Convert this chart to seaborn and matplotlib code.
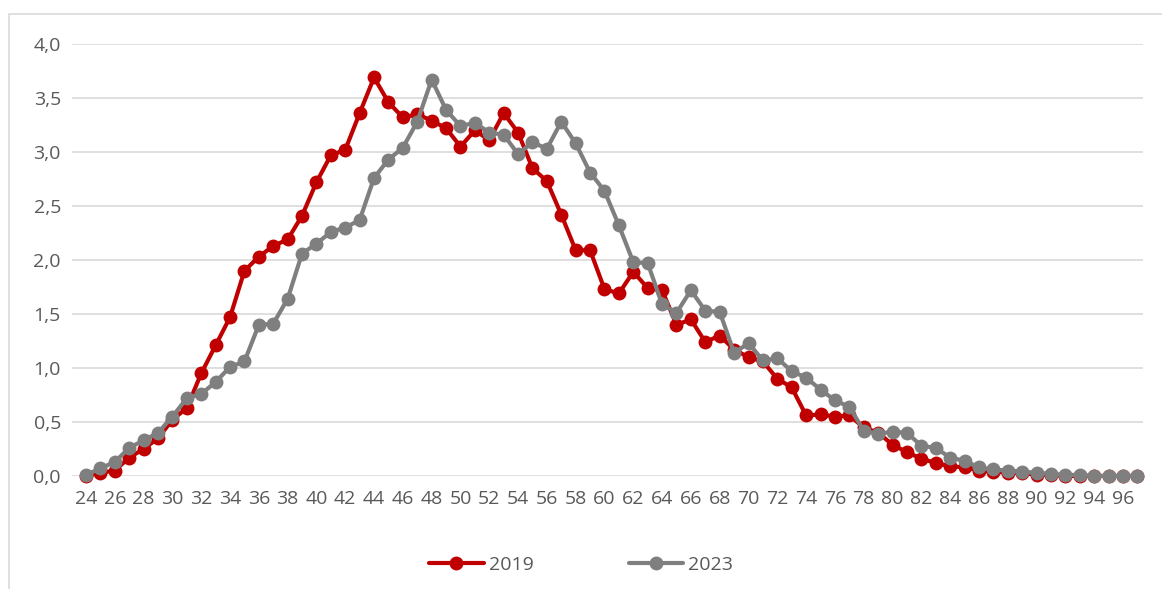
import numpy as np
import pandas as pd
import matplotlib
matplotlib.use('Agg')
import matplotlib.pyplot as plt
import seaborn as sns
from matplotlib.ticker import FuncFormatter, MultipleLocator
from matplotlib.patches import Rectangle

# age values (x axis)
ages = list(range(24, 98))

share_2019 = [0.00, 0.03, 0.05, 0.17, 0.25, 0.35, 0.52, 0.63, 0.95, 1.21,
              1.47, 1.90, 2.03, 2.13, 2.19, 2.41, 2.72, 2.97, 3.02, 3.36,
              3.69, 3.46, 3.32, 3.35, 3.29, 3.22, 3.05, 3.20, 3.11, 3.36,
              3.18, 2.85, 2.73, 2.42, 2.09, 2.09, 1.73, 1.69, 1.89, 1.74,
              1.72, 1.40, 1.45, 1.24, 1.30, 1.17, 1.10, 1.06, 0.90, 0.82,
              0.56, 0.57, 0.55, 0.56, 0.45, 0.40, 0.29, 0.22, 0.16, 0.12,
              0.09, 0.08, 0.05, 0.04, 0.03, 0.03, 0.01, 0.01, 0.00, 0.00,
              0.00, 0.00, 0.00, 0.00]

share_2023 = [0.01, 0.07, 0.13, 0.26, 0.33, 0.40, 0.55, 0.72, 0.76, 0.87,
              1.01, 1.06, 1.40, 1.41, 1.64, 2.06, 2.15, 2.26, 2.30, 2.37,
              2.76, 2.93, 3.04, 3.28, 3.67, 3.39, 3.24, 3.27, 3.18, 3.16,
              2.98, 3.09, 3.03, 3.28, 3.08, 2.81, 2.64, 2.32, 1.98, 1.97,
              1.59, 1.51, 1.72, 1.53, 1.52, 1.14, 1.23, 1.07, 1.09, 0.97,
              0.91, 0.80, 0.70, 0.64, 0.42, 0.39, 0.41, 0.40, 0.28, 0.26,
              0.17, 0.14, 0.08, 0.06, 0.05, 0.04, 0.03, 0.02, 0.01, 0.01,
              0.00, 0.00, 0.00, 0.00]

series_names = ['2019', '2023']
colors = {'2019': '#C00000', '2023': '#7F7F7F'}

df = pd.DataFrame({'age': ages * 2,
                   'value': share_2019 + share_2023,
                   'year': ['2019'] * len(ages) + ['2023'] * len(ages)})

sns.set_style('white')
plt.rcParams['font.family'] = ['Open Sans', 'DejaVu Sans']

fig = plt.figure(figsize=(11.62, 5.89), dpi=100)
ax = fig.add_axes([0.062, 0.1919, 0.922, 0.7334])

# light frame around the chart (right and bottom edges fall outside the image)
fig.patches.append(Rectangle((8.5 / 1162, -0.1), 1.2, 1.1 - 14.5 / 589, transform=fig.transFigure,
                             fill=False, edgecolor='#D9D9D9', linewidth=1.2))

sns.lineplot(data=df, x='age', y='value', hue='year', palette=colors,
             hue_order=series_names, marker='o', markersize=10, linewidth=3,
             markeredgewidth=0, ax=ax, clip_on=False, zorder=3)

ax.set_xlim(23.03, 97.42)
ax.set_ylim(0, 4.0)
ax.yaxis.set_major_locator(MultipleLocator(0.5))
ax.yaxis.set_major_formatter(FuncFormatter(lambda v, p: f'{v:.1f}'.replace('.', ',')))
ax.set_xticks(list(range(24, 97, 2)))
ax.grid(axis='y', color='#D9D9D9', linewidth=1.2)
ax.set_axisbelow(True)
for s in ax.spines.values():
    s.set_visible(False)
ax.tick_params(axis='both', length=0, labelsize=14, colors='#595959', pad=8)
ax.tick_params(axis='x', pad=10)
ax.set_xlabel('')
ax.set_ylabel('')

handles, labels = ax.get_legend_handles_labels()
ax.legend(handles, labels, loc='center', bbox_to_anchor=(0.5, 24 / 589),
          bbox_transform=fig.transFigure, ncol=2, frameon=False, fontsize=14,
          handlelength=2.8, handletextpad=0.25, columnspacing=4.9,
          labelcolor='#595959')

fig.savefig('out.png', dpi=100)
